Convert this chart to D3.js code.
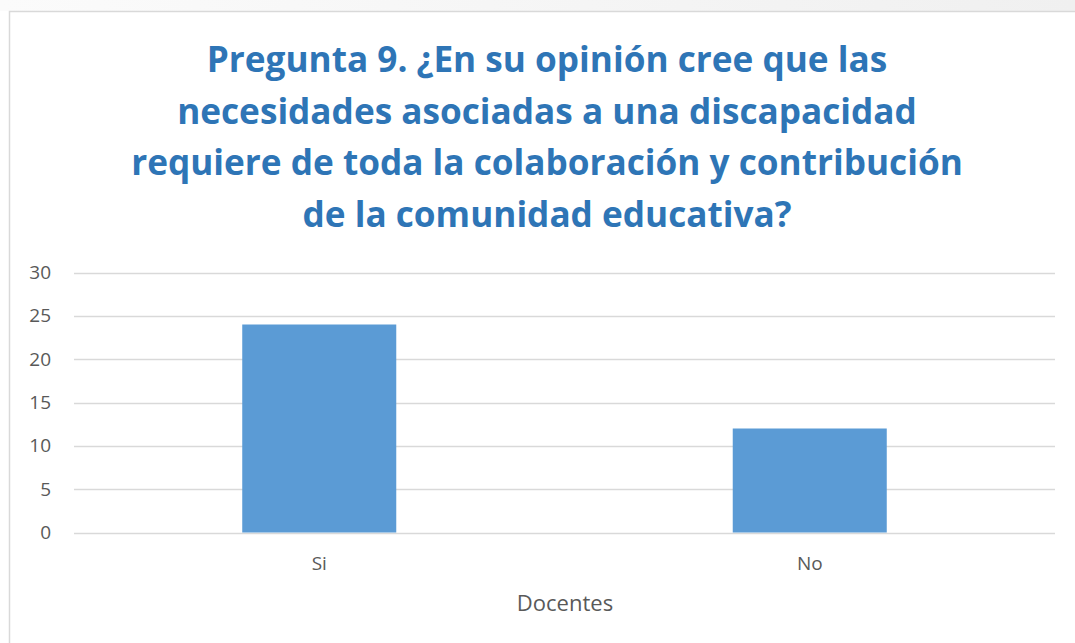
<!DOCTYPE html>
<html>
<head>
    <meta charset="utf-8">
    <title>Pregunta 9</title>
    <script src="https://d3js.org/d3.v7.min.js"></script>
    <style>
        body { margin: 0; background: #fff; }
        text { font-family: "Open Sans", "DejaVu Sans", sans-serif; }
    </style>
</head>
<body>
    <svg id="chart" width="1075" height="643"></svg>
    <script>
        // data
        var categories = ["Si", "No"];
        var values = [24, 12];
        var yTicks = [0, 5, 10, 15, 20, 25, 30];
        var titleLines = [
            "Pregunta 9. ¿En su opinión cree que las",
            "necesidades asociadas a una discapacidad",
            "requiere de toda la colaboración y contribución",
            "de la comunidad educativa?"
        ];
        var xTitle = "Docentes";

        var svg = d3.select("#chart");

        // page strip above the chart frame
        var grad = svg.append("defs").append("linearGradient")
            .attr("id", "topfade").attr("x1", 0).attr("x2", 1);
        grad.append("stop").attr("offset", "0").attr("stop-color", "#fbfbfb");
        grad.append("stop").attr("offset", "1").attr("stop-color", "#f0f0f0");
        svg.append("rect").attr("x", 0).attr("y", 0).attr("width", 1075).attr("height", 11)
            .attr("fill", "url(#topfade)");

        // chart frame
        svg.append("rect")
            .attr("x", 9.5).attr("y", 11.5)
            .attr("width", 1080).attr("height", 650)
            .attr("fill", "#fff")
            .attr("stroke", "#d9d9d9")
            .attr("stroke-width", 1.5);

        // title, sized so the longest line spans ~832px like the original
        var title = svg.append("g");
        var titleTexts = titleLines.map(function(line, i) {
            return title.append("text")
                .attr("x", 547)
                .attr("y", 72 + i * 51.7)
                .attr("text-anchor", "middle")
                .style("font-size", "34px")
                .style("font-weight", "bold")
                .style("fill", "#2e75b6")
                .text(line);
        });
        var longest = d3.max(titleTexts, function(t) { return t.node().getComputedTextLength(); });
        var fs = Math.min(36, 34 * 832 / longest);
        titleTexts.forEach(function(t) { t.style("font-size", fs + "px"); });

        var plotLeft = 74, plotRight = 1055, plotTop = 272.5, plotBottom = 532.5;

        var x = d3.scaleBand()
            .domain(categories)
            .range([plotLeft, plotRight])
            .paddingInner(0.686)
            .paddingOuter(0.343);

        var y = d3.scaleLinear().domain([0, 30]).range([plotBottom, plotTop]);

        // gridlines
        svg.append("g").selectAll("line")
            .data(yTicks)
            .enter().append("line")
            .attr("x1", plotLeft).attr("x2", plotRight)
            .attr("y1", function(d) { return Math.round(y(d)) + 0.5; })
            .attr("y2", function(d) { return Math.round(y(d)) + 0.5; })
            .attr("stroke", "#d9d9d9")
            .attr("stroke-width", 1.3);

        // y axis labels
        var yAxis = svg.append("g")
            .attr("transform", "translate(" + 51 + ",0)")
            .call(d3.axisLeft(y).tickValues(yTicks).tickSize(0).tickPadding(0));
        yAxis.select(".domain").remove();
        yAxis.selectAll("text")
            .style("font-family", "'Open Sans', sans-serif")
            .style("font-size", "19px")
            .style("fill", "#595959");

        // bars
        svg.append("g").selectAll("rect")
            .data(values)
            .enter().append("rect")
            .attr("x", function(d, i) { return x(categories[i]); })
            .attr("width", x.bandwidth())
            .attr("y", function(d) { return y(d); })
            .attr("height", function(d) { return y(0) - y(d); })
            .attr("fill", "#5b9bd5");

        // x axis labels
        var xAxis = svg.append("g")
            .attr("transform", "translate(0," + (plotBottom + 24) + ")")
            .call(d3.axisBottom(x).tickSize(0).tickPadding(0));
        xAxis.select(".domain").remove();
        xAxis.selectAll("text")
            .style("font-family", "'Open Sans', sans-serif")
            .style("font-size", "19px")
            .style("fill", "#595959");

        svg.append("text")
            .attr("x", 565)
            .attr("y", 611)
            .attr("text-anchor", "middle")
            .style("font-size", "22px")
            .style("fill", "#595959")
            .text(xTitle);
    </script>
</body>
</html>
